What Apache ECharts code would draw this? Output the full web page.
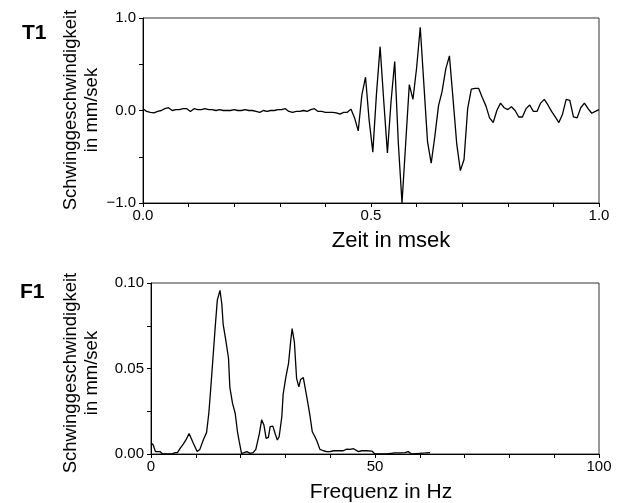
<!DOCTYPE html>
<html>
<head>
<meta charset="utf-8">
<script src="https://cdn.jsdelivr.net/npm/echarts@6/dist/echarts.min.js"></script>
<style>
  html, body { margin: 0; padding: 0; background: #fff; }
  #chart { width: 619px; height: 503px; }
</style>
</head>
<body>
<div id="chart"></div>
<script>
// T1: Zeitsignal, Abtastschritt in msek
const sampleStep = 0.008
const velocityT1 = [
  0.02, -0.01, -0.02, -0.025, -0.01, 0.0, 0.02, 0.03, 0.0, 0.01,
  0.01, 0.02, 0.02, -0.01, 0.02, 0.01, 0.01, 0.02, 0.01, 0.01,
  0.0, 0.01, 0.0, 0.0, 0.0, 0.01, 0.0, 0.0, 0.01, 0.0,
  0.0, -0.01, -0.02, 0.0, -0.01, 0.0, 0.0, 0.01, 0.01, 0.02,
  -0.01, -0.02, -0.01, -0.01, 0.0, -0.01, 0.01, 0.02, -0.01, -0.01,
  -0.02, -0.02, -0.02, -0.025, -0.04, -0.02, -0.02, 0.015, -0.08, -0.22,
  0.17, 0.36, -0.11, -0.45, 0.18, 0.69, 0.10, -0.46, 0.10, 0.53,
  -0.36, -1.0, -0.36, 0.28, 0.12, 0.46, 0.90, 0.28, -0.34, -0.57,
  -0.28, 0.05, 0.21, 0.45, 0.59, 0.12, -0.36, -0.65, -0.53, 0.02,
  0.23, 0.24, 0.24, 0.14, 0.05, -0.08, -0.13, 0.0, 0.08, 0.03,
  0.01, 0.04, 0.0, -0.07, -0.07, 0.02, 0.06, -0.01, -0.01, 0.08,
  0.12, 0.06, -0.01, -0.07, -0.13, -0.04, 0.12, 0.11, -0.07, -0.08,
  0.03, 0.08, 0.02, -0.03, -0.01, 0.01
]

// F1: Spektrum
const freqF1 = [
  0, 0.5, 1.0, 2.0, 2.6, 3.5, 4.6, 5.4, 5.9, 6.5,
  7.2, 7.8, 8.5, 8.9, 9.4, 10.3, 10.9, 11.8, 12.4, 12.9,
  13.3, 13.8, 14.3, 14.8, 15.4, 15.8, 16.1, 16.7, 17.3, 17.6,
  18.2, 18.8, 19.3, 19.7, 20.2, 20.8, 21.4, 22.1, 22.8, 23.4,
  24.2, 24.7, 25.2, 25.7, 26.2, 26.6, 27.2, 27.7, 28.2, 28.6,
  29.2, 29.5, 30.1, 30.7, 31.2, 31.5, 32.0, 32.5, 33.0, 33.4,
  34.0, 34.4, 34.9, 35.5, 36.0, 36.6, 37.1, 37.7, 38.5, 39.2,
  40.0, 40.7, 41.8, 42.9, 43.7, 44.4, 45.2, 46.3, 47.0, 48.1,
  49.3, 50.0, 51.1, 52.6, 54.5, 55.6, 56.7, 57.4, 58.2, 60.0,
  61.2, 62.3
]
const ampF1 = [
  0.0066, 0.0053, 0.0014, 0.0014, 0.0, 0.0, 0.0, 0.0008, 0.0008, 0.0033,
  0.0058, 0.0082, 0.0120, 0.0117, 0.0066, 0.0014, 0.0027, 0.0091, 0.0125, 0.0237,
  0.0370, 0.0550, 0.0730, 0.0900, 0.0957, 0.0880, 0.0760, 0.0665, 0.0560, 0.0390,
  0.0296, 0.0237, 0.0130, 0.0072, 0.0004, 0.0008, 0.0014, 0.0004, 0.0008, 0.0027,
  0.0120, 0.0200, 0.0170, 0.0091, 0.0097, 0.0160, 0.0163, 0.0120, 0.0082, 0.0101,
  0.0218, 0.0350, 0.0450, 0.0530, 0.0665, 0.0733, 0.0656, 0.0442, 0.0393, 0.0436,
  0.0447, 0.0442, 0.0315, 0.0222, 0.0130, 0.0101, 0.0072, 0.0027, 0.0019, 0.0014,
  0.0014, 0.0019, 0.0019, 0.0019, 0.0029, 0.0027, 0.0031, 0.0014, 0.0019, 0.0019,
  0.0017, 0.0, 0.0, 0.0, 0.0006, 0.0006, 0.0008, 0.0014, 0.0, 0.0004,
  0.0006, 0.0008
]

const chart = echarts.init(document.getElementById('chart'))

const font = "'Liberation Sans', Arial, sans-serif"
const labelStyle = { color: '#000', fontSize: 15, fontFamily: font }
const tick = { show: true, inside: false, length: 4, lineStyle: { color: '#000', width: 1 } }
const line = { show: true, onZero: false, lineStyle: { color: '#000', width: 1 } }

const isMultiple = (v, step) => Math.abs(v / step - Math.round(v / step)) < 1e-6

const option = {
  animation: false,
  grid: [
    { left: 143, right: 20, top: 18, height: 185, show: true, borderColor: '#333', borderWidth: 1 },
    { left: 151, right: 20, top: 283, height: 171, show: true, borderColor: '#333', borderWidth: 1 }
  ],
  xAxis: [
    {
      gridIndex: 0, type: 'value', min: 0, max: 1, interval: 0.1,
      axisLine: line, axisTick: tick, splitLine: { show: false },
      axisLabel: {
        ...labelStyle, margin: 5,
        formatter: v => isMultiple(v, 0.5) ? v.toFixed(1) : ''
      }
    },
    {
      gridIndex: 1, type: 'value', min: 0, max: 100, interval: 10,
      axisLine: line, axisTick: tick, splitLine: { show: false },
      axisLabel: {
        ...labelStyle, margin: 5,
        formatter: v => isMultiple(v, 50) ? String(v) : ''
      }
    }
  ],
  yAxis: [
    {
      gridIndex: 0, type: 'value', min: -1, max: 1, interval: 0.5,
      axisLine: line, axisTick: tick, splitLine: { show: false },
      axisLabel: {
        ...labelStyle, margin: 7,
        formatter: v => isMultiple(v, 1) ? (v < 0 ? '\u2212' + Math.abs(v).toFixed(1) : v.toFixed(1)) : ''
      }
    },
    {
      gridIndex: 1, type: 'value', min: 0, max: 0.1, interval: 0.025,
      axisLine: line, axisTick: tick, splitLine: { show: false },
      axisLabel: {
        ...labelStyle, margin: 7,
        formatter: v => isMultiple(v, 0.05) ? v.toFixed(2) : ''
      }
    }
  ],
  series: [
    {
      type: 'line', xAxisIndex: 0, yAxisIndex: 0,
      data: velocityT1.map((v, i) => [i * sampleStep, v]),
      showSymbol: false, lineStyle: { color: '#000', width: 1.3 }
    },
    {
      type: 'line', xAxisIndex: 1, yAxisIndex: 1,
      data: freqF1.map((f, i) => [f, ampF1[i]]),
      showSymbol: false, lineStyle: { color: '#000', width: 1.3 }
    }
  ],
  graphic: [
    { type: 'text', x: 22, y: 33, style: { text: 'T1', font: 'bold 21px ' + font, fill: '#000', verticalAlign: 'middle' } },
    { type: 'text', x: 20, y: 292, style: { text: 'F1', font: 'bold 21px ' + font, fill: '#000', verticalAlign: 'middle' } },
    {
      type: 'text', x: 81, y: 110, rotation: Math.PI / 2,
      style: { text: 'Schwinggeschwindigkeit\nin mm/sek', font: '18.5px ' + font, fill: '#000', align: 'center', verticalAlign: 'middle', lineHeight: 21 }
    },
    {
      type: 'text', x: 81, y: 373, rotation: Math.PI / 2,
      style: { text: 'Schwinggeschwindigkeit\nin mm/sek', font: '18.5px ' + font, fill: '#000', align: 'center', verticalAlign: 'middle', lineHeight: 21 }
    },
    { type: 'text', x: 391, y: 241, style: { text: 'Zeit in msek', font: '22px ' + font, fill: '#000', align: 'center', verticalAlign: 'middle' } },
    { type: 'text', x: 381, y: 492, style: { text: 'Frequenz in Hz', font: '21px ' + font, fill: '#000', align: 'center', verticalAlign: 'middle' } }
  ]
}

chart.setOption(option)
</script>
</body>
</html>
